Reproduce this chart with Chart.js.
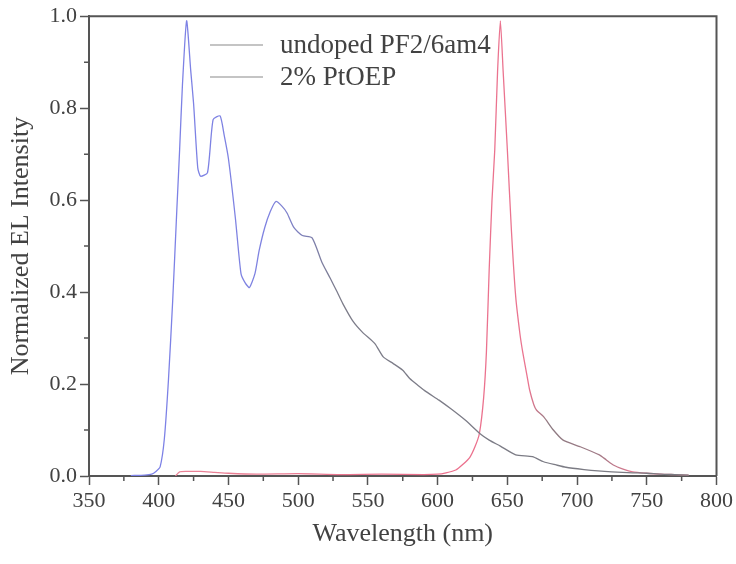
<!DOCTYPE html>
<html>
<head>
<meta charset="utf-8">
<title>Normalized EL Intensity</title>
<script src="https://cdn.jsdelivr.net/npm/chart.js@4.4.1/dist/chart.umd.min.js"></script>
<style>
    body { margin: 0; background: #fff; }
    #wrap { width: 736px; height: 564px; }
</style>
</head>
<body>
<div id="wrap"><canvas id="elChart" width="736" height="564"></canvas></div>
<script>
// ─── Data ────────────────────────────────────────────────────────────────────
const seriesNames = ['undoped PF2/6am4', '2% PtOEP'];

const undopedWl  = [380, 390, 395, 398, 401, 404, 407, 410, 413, 415, 417, 420, 423, 425, 428, 430, 435, 439, 444, 447, 450, 455, 459, 462, 465, 469, 472, 476, 480, 484, 488, 492, 497, 503, 510, 517, 523, 528, 532, 539, 546, 555, 561, 568, 575, 580, 586, 592, 601, 610, 620, 630, 637, 645, 656, 668, 676, 685, 692, 705, 715, 725, 740, 750, 760, 770, 780];
const undopedVal = [0.001, 0.002, 0.004, 0.01, 0.02, 0.08, 0.21, 0.38, 0.58, 0.71, 0.85, 0.99, 0.88, 0.81, 0.67, 0.652, 0.66, 0.775, 0.783, 0.74, 0.69, 0.56, 0.44, 0.42, 0.41, 0.44, 0.49, 0.54, 0.575, 0.597, 0.588, 0.572, 0.54, 0.523, 0.518, 0.465, 0.43, 0.40, 0.375, 0.338, 0.313, 0.288, 0.259, 0.245, 0.23, 0.212, 0.197, 0.183, 0.165, 0.145, 0.121, 0.093, 0.078, 0.065, 0.046, 0.042, 0.031, 0.024, 0.019, 0.014, 0.011, 0.009, 0.007, 0.006, 0.004, 0.003, 0.002];

const ptoepWl  = [412, 415, 420, 430, 440, 450, 470, 500, 530, 560, 590, 600, 606, 613, 618, 623, 627, 630, 633, 635, 637, 639, 641, 643, 645, 647, 650, 653, 656, 659, 661, 664, 666, 669, 671, 676, 683, 690, 702, 716, 721, 726, 733, 740, 750, 760, 770, 780];
const ptoepVal = [0, 0.009, 0.01, 0.01, 0.008, 0.006, 0.004, 0.005, 0.003, 0.004, 0.003, 0.004, 0.007, 0.013, 0.025, 0.04, 0.065, 0.093, 0.17, 0.27, 0.45, 0.6, 0.71, 0.88, 0.99, 0.88, 0.71, 0.53, 0.39, 0.31, 0.27, 0.22, 0.187, 0.155, 0.143, 0.129, 0.10, 0.078, 0.064, 0.046, 0.035, 0.024, 0.015, 0.009, 0.006, 0.004, 0.003, 0.002];

const xMin = 350, xMax = 800, xStep = 50;
const yMin = 0, yMax = 1.0, yStep = 0.2;

// ─── Look ────────────────────────────────────────────────────────────────────
const serif = "'Liberation Serif', 'DejaVu Serif', serif";
const inkColor = '#424242';
const axisColor = '#555555';

Chart.defaults.font.family = serif;
Chart.defaults.color = inkColor;

const toPoints = (xs, ys) => xs.map((x, i) => ({ x: x, y: ys[i] }));

// colour of the scanned traces drifts along the wavelength axis
function traceGradient(chart, stops) {
    const { ctx, chartArea, scales } = chart;
    if (!chartArea) return null;
    const x = scales.x;
    const g = ctx.createLinearGradient(x.getPixelForValue(xMin), 0, x.getPixelForValue(xMax), 0);
    stops.forEach(([nm, c]) => g.addColorStop((nm - xMin) / (xMax - xMin), c));
    return g;
}

// frame on top/right, minor ticks, in-plot legend
const framePlugin = {
    id: 'frame',
    afterDraw(chart) {
        const { ctx, chartArea: a, scales } = chart;
        ctx.save();
        ctx.strokeStyle = axisColor;
        ctx.lineWidth = 2;
        ctx.beginPath();
        ctx.moveTo(a.left, a.top);
        ctx.lineTo(a.right, a.top);
        ctx.lineTo(a.right, a.bottom);
        ctx.stroke();

        // minor ticks
        ctx.lineWidth = 1.5;
        ctx.beginPath();
        for (let v = xMin + xStep / 2; v < xMax; v += xStep) {
            const px = scales.x.getPixelForValue(v);
            ctx.moveTo(px, a.bottom);
            ctx.lineTo(px, a.bottom + 5);
        }
        for (let v = yMin + yStep / 2; v < yMax; v += yStep) {
            const py = scales.y.getPixelForValue(v);
            ctx.moveTo(a.left, py);
            ctx.lineTo(a.left - 5, py);
        }
        ctx.stroke();

        // legend
        ctx.font = '27px ' + serif;
        ctx.textBaseline = 'middle';
        chart.data.datasets.forEach((ds, i) => {
            const y = 45 + i * 32;
            ctx.strokeStyle = '#8a8a8a';
            ctx.lineWidth = 1.2;
            ctx.beginPath();
            ctx.moveTo(210, y);
            ctx.lineTo(263, y);
            ctx.stroke();
            ctx.fillStyle = inkColor;
            ctx.fillText(ds.label, 280, y + 1);
        });
        ctx.restore();
    }
};

new Chart(document.getElementById('elChart').getContext('2d'), {
    type: 'line',
    data: {
        datasets: [{
            label: seriesNames[0],
            data: toPoints(undopedWl, undopedVal),
            borderColor: (c) => traceGradient(c.chart, [[350, '#7b80ea'], [480, '#7f83e0'], [530, '#7d7d8a'], [800, '#7a7a80']]),
            borderWidth: 1.3,
            pointRadius: 0,
            tension: 0.2
        }, {
            label: seriesNames[1],
            data: toPoints(ptoepWl, ptoepVal),
            borderColor: (c) => traceGradient(c.chart, [[350, '#e98a9a'], [600, '#ec6f8c'], [665, '#ea7590'], [680, '#8d7b82'], [715, '#a07a86'], [740, '#e07890'], [800, '#d88a98']]),
            borderWidth: 1.3,
            pointRadius: 0,
            tension: 0.2
        }]
    },
    options: {
        responsive: false,
        animation: false,
        layout: { padding: { top: 15, right: 19, left: 0, bottom: 0 } },
        plugins: {
            legend: { display: false },
            tooltip: { enabled: false }
        },
        scales: {
            x: {
                type: 'linear',
                min: xMin,
                max: xMax,
                afterFit: (s) => { s.height = 88; },
                border: { color: axisColor, width: 2 },
                grid: { drawOnChartArea: false, tickLength: 9, tickColor: axisColor, tickWidth: 1.5 },
                ticks: {
                    stepSize: xStep,
                    padding: 3,
                    color: inkColor,
                    font: { size: 22 },
                    maxRotation: 0
                },
                title: {
                    display: true,
                    text: 'Wavelength (nm)',
                    color: inkColor,
                    font: { size: 26 },
                    padding: { top: 0, bottom: 14 }
                }
            },
            y: {
                min: yMin,
                max: yMax,
                afterFit: (s) => { s.width = 89; },
                border: { color: axisColor, width: 2 },
                grid: { drawOnChartArea: false, tickLength: 9, tickColor: axisColor, tickWidth: 1.5 },
                ticks: {
                    stepSize: yStep,
                    padding: 3,
                    color: inkColor,
                    font: { size: 22 },
                    callback: (v) => v.toFixed(1)
                },
                title: {
                    display: true,
                    text: 'Normalized EL Intensity',
                    color: inkColor,
                    font: { size: 26 },
                    padding: { top: 6, bottom: 0 }
                }
            }
        }
    },
    plugins: [framePlugin]
});
</script>
</body>
</html>
